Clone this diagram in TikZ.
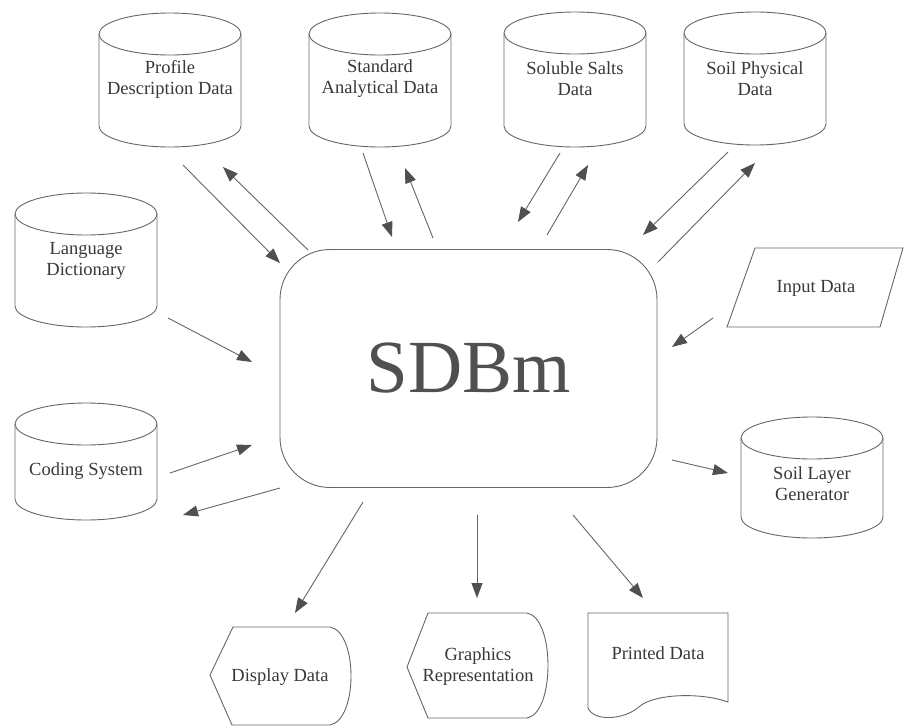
\documentclass[tikz,border=0pt]{standalone}
\usepackage{fontspec}
\setmainfont{Liberation Serif}
\usetikzlibrary{arrows.meta}

\definecolor{ink}{HTML}{666666}
\definecolor{txt}{HTML}{383838}
\definecolor{head}{HTML}{505050}
\definecolor{bigtxt}{HTML}{505050}

\tikzset{
  outline/.style={draw=ink, line width=0.9pt},
  labeltext/.style={text=txt, align=center, inner sep=0pt,
    font=\fontsize{18.5}{21}\selectfont},
  flow/.style={draw=ink, line width=0.9pt,
    -{Triangle[length=15pt, width=11pt, color=head]}},
}

% data store drawn as a cylinder: name, centre x, top y, bottom y, text y, text
\newcommand\datastore[6]{%
  \draw[outline] (#2,#3+21) ellipse[x radius=71, y radius=21];
  \draw[outline] (#2-71,#3+21) -- (#2-71,#4-21)
    arc[start angle=180, end angle=0, x radius=71, y radius=21]
    -- (#2+71,#3+21);
  \node[labeltext] (#1) at (#2,#5) {#6};
}

\begin{document}
\begin{tikzpicture}[x=1pt, y=-1pt]
\useasboundingbox[fill=white] (0,0) rectangle (904,726);

% central module
\node[draw=ink, line width=0.9pt, rounded corners=50pt,
      minimum width=377pt, minimum height=238pt, inner sep=0pt,
      text=bigtxt, font=\fontsize{75}{75}\selectfont] (c) at (468.5,368.5) {SDBm};

% data stores
\datastore{pd}{170}{13}{147}{79}{Profile\\Description Data}
\datastore{sa}{380}{13}{147}{79}{Standard\\Analytical Data}
\datastore{ss}{575}{12}{147}{79}{Soluble Salts\\Data}
\datastore{sp}{755}{12}{145}{79}{Soil Physical\\Data}
\datastore{ld}{86}{193}{327}{261}{Language\\Dictionary}
\datastore{cs}{86}{403}{520}{471}{Coding System}
\datastore{sl}{812}{417}{538}{484}{Soil Layer\\Generator}

% manual input
\draw[outline] (755,248) -- (903,248) -- (880,327) -- (727,327) -- cycle;
\node[labeltext] (in) at (816,288) {Input Data};

% display outputs
\draw[outline] (210,675) -- (233,627) -- (330,627)
  .. controls (358,632) and (358,720) .. (330,725) -- (232,725) -- cycle;
\node[labeltext] (dd) at (280,677) {Display Data};

\draw[outline] (407,667) -- (428,613) -- (527,613)
  .. controls (555,618) and (555,713) .. (527,718) -- (428,718) -- cycle;
\node[labeltext] (gr) at (478,667) {Graphics\\Representation};

% printed document
\draw[outline] (588,613) -- (728,613) -- (728,702)
  .. controls (700,692) and (655,694) .. (640,706)
  .. controls (625,720) and (594,722) .. (588,708) -- cycle;
\node[labeltext] (pr) at (658,653) {Printed Data};

% connector end points
\coordinate (pd-out) at (183,165);  \coordinate (pd-in)  at (280,263);
\coordinate (c-pd)   at (308,250);  \coordinate (pd-tip) at (223,167);
\coordinate (sa-out) at (363,153);  \coordinate (sa-in)  at (392,237);
\coordinate (c-sa)   at (433,238);  \coordinate (sa-tip) at (405,168);
\coordinate (ss-out) at (560,153);  \coordinate (ss-in)  at (518,222);
\coordinate (c-ss)   at (547,235);  \coordinate (ss-tip) at (588,165);
\coordinate (sp-out) at (728,152);  \coordinate (sp-in)  at (643,235);
\coordinate (c-sp)   at (658,262);  \coordinate (sp-tip) at (755,163);
\coordinate (ld-out) at (168,318);  \coordinate (ld-in)  at (252,362);
\coordinate (cs-out) at (170,473);  \coordinate (cs-in)  at (252,445);
\coordinate (c-cs)   at (280,488);  \coordinate (cs-tip) at (183,515);
\coordinate (in-out) at (713,318);  \coordinate (in-in)  at (672,347);
\coordinate (c-sl)   at (672,460);  \coordinate (sl-tip) at (728,473);
\coordinate (c-dd)   at (363,502);  \coordinate (dd-tip) at (295,613);
\coordinate (c-gr)   at (477,515);  \coordinate (gr-tip) at (477,598);
\coordinate (c-pr)   at (573,515);  \coordinate (pr-tip) at (643,598);

% data flows
\draw[flow] (pd-out) -- (pd-in);
\draw[flow] (c-pd) -- (pd-tip);
\draw[flow] (sa-out) -- (sa-in);
\draw[flow] (c-sa) -- (sa-tip);
\draw[flow] (ss-out) -- (ss-in);
\draw[flow] (c-ss) -- (ss-tip);
\draw[flow] (sp-out) -- (sp-in);
\draw[flow] (c-sp) -- (sp-tip);
\draw[flow] (ld-out) -- (ld-in);
\draw[flow] (cs-out) -- (cs-in);
\draw[flow] (c-cs) -- (cs-tip);
\draw[flow] (in-out) -- (in-in);
\draw[flow] (c-sl) -- (sl-tip);
\draw[flow] (c-dd) -- (dd-tip);
\draw[flow] (c-gr) -- (gr-tip);
\draw[flow] (c-pr) -- (pr-tip);
\end{tikzpicture}
\end{document}
